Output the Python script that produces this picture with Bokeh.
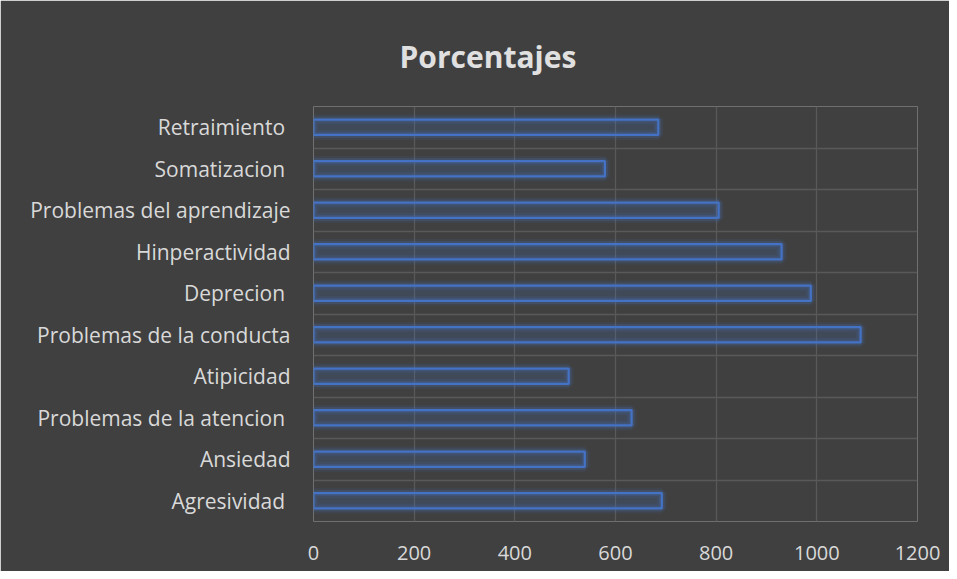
from bokeh.plotting import figure
from bokeh.models import FixedTicker, Range1d
from bokeh.embed import file_html
from bokeh.resources import INLINE

categories = ["Agresividad ", "Ansiedad", "Problemas de la atencion ", "Atipicidad",
              "Problemas de la conducta", "Deprecion ", "Hinperactividad",
              "Problemas del aprendizaje", "Somatizacion ", "Retraimiento "]
values = [692, 539, 632, 507, 1087, 988, 930, 805, 579, 685]
x_ticks = [0, 200, 400, 600, 800, 1000, 1200]

positions = [i + 0.5 for i in range(len(categories))]
boundaries = list(range(len(categories) + 1))

BG = "#404040"
TXT = "#d9d9d9"
GRID = "#595959"
BLUE = "#4472C4"

p = figure(width=949, height=571, x_range=Range1d(0, 1200), y_range=Range1d(0, len(categories)),
           output_backend="svg", toolbar_location=None,
           min_border_left=313, min_border_right=32, min_border_top=106, min_border_bottom=50)
p.background_fill_color = BG
p.border_fill_color = BG
p.outline_line_color = None

p.title.text = "Porcentajes"
p.title.text_color = "#e0e0e0"
p.title.text_font = "Open Sans"
p.title.text_font_style = "bold"
p.title.text_font_size = "30px"
p.title.align = "left"
p.title.vertical_align = "top"
p.title.offset = 86
p.title.standoff = 56

for ax in (p.xaxis, p.yaxis):
    ax.axis_line_color = None
    ax.major_tick_line_color = None
    ax.minor_tick_line_color = None
    ax.major_label_text_color = TXT
    ax.major_label_text_font = "Open Sans"

p.xaxis.major_label_text_font_size = "20px"
p.yaxis.major_label_text_font_size = "21px"
p.xaxis.ticker = FixedTicker(ticks=x_ticks)
p.xaxis.major_label_standoff = 18
p.yaxis.ticker = FixedTicker(ticks=positions)
p.yaxis.major_label_overrides = {pos: name for pos, name in zip(positions, categories)}
p.yaxis.major_label_standoff = 17

p.xgrid.ticker = FixedTicker(ticks=x_ticks)
p.ygrid.ticker = FixedTicker(ticks=boundaries)
for g in (p.xgrid, p.ygrid):
    g.grid_line_color = GRID
    g.grid_line_width = 1.3

# glow layers
p.hbar(y=positions, right=values, left=0, height=0.37, fill_color=None,
       line_color=BLUE, line_alpha=0.10, line_width=10)
p.hbar(y=positions, right=values, left=0, height=0.37, fill_color=None,
       line_color=BLUE, line_alpha=0.2, line_width=6)
p.hbar(y=positions, right=values, left=0, height=0.37, fill_color=BLUE, fill_alpha=0.18,
       line_color=BLUE, line_width=2.2)

open("out.html", "w").write(file_html(p, INLINE))
